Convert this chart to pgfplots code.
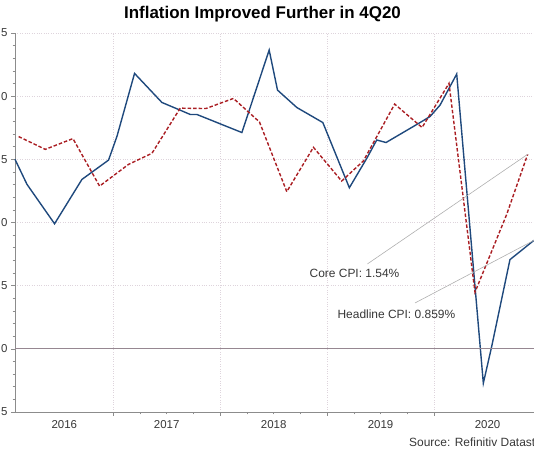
\documentclass[border=0pt]{standalone}
\usepackage{fontspec}
\setmainfont{Liberation Sans}
\usepackage{pgfplots}
\pgfplotsset{compat=1.18}
\definecolor{hblue}{RGB}{31,73,125}
\definecolor{cred}{RGB}{170,30,35}
\definecolor{gridc}{RGB}{222,212,220}
\definecolor{axisc}{RGB}{140,140,140}
\definecolor{zeroc}{RGB}{150,135,145}
\definecolor{annoc}{RGB}{175,175,175}
\definecolor{txt}{RGB}{55,55,55}

\begin{document}
\begin{tikzpicture}[x=1bp,y=1bp]
\begin{axis}[
  at={(15bp,38bp)}, anchor=south west,
  scale only axis, width=519bp, height=379bp,
  xmin=2016.081, xmax=2020.935,
  ymin=-0.5, ymax=2.5,
  axis x line*=bottom, axis y line*=left,
  axis line style={draw=axisc, line width=0.8bp, -},
  tick style={draw=axisc, line width=0.6bp},
  tick align=outside,
  major tick length=4bp, minor tick length=2.5bp,
  xtick={2017,2018,2019,2020}, xticklabels={},
  minor x tick num=3,
  extra x ticks={2016.542,2017.5,2018.5,2019.5,2020.5},
  extra x tick labels={2016,2017,2018,2019,2020},
  extra x tick style={major tick length=0pt, grid=none,
    xticklabel style={yshift=-5bp}},
  ytick={-0.5,0,0.5,1,1.5,2,2.5},
  minor y tick num=4,
  /pgf/number format/.cd, fixed, fixed zerofill, precision=1, assume math mode=true,
  /pgfplots/.cd,
  ticklabel style={font=\fontsize{11.5}{13}\selectfont, text=txt},
  xmajorgrids, ymajorgrids,
  grid style={draw=gridc, dotted, line width=0.7bp},
  clip=false,
]
% headline CPI, y/y %
\addplot[hblue, line width=1.4bp] coordinates {
(2016.081,1.500) (2016.193,1.302) (2016.451,0.990) (2016.707,1.341)
(2016.956,1.494) (2017.035,1.683) (2017.199,2.180) (2017.455,1.950)
(2017.626,1.889) (2017.720,1.855) (2017.782,1.855) (2018.203,1.712)
(2018.458,2.365) (2018.536,2.048) (2018.717,1.910) (2018.960,1.791)
(2019.208,1.275) (2019.371,1.508) (2019.464,1.653) (2019.551,1.633)
(2019.869,1.791) (2019.963,1.839) (2020.056,1.929) (2020.212,2.175)
(2020.461,-0.272) (2020.539,0.018) (2020.710,0.706) (2020.935,0.859)
};
% core CPI, y/y %
\addplot[cred, line width=1.4bp, dash pattern=on 3.5bp off 2bp] coordinates {
(2016.115,1.680) (2016.364,1.579) (2016.623,1.664) (2016.872,1.288)
(2017.143,1.460) (2017.362,1.548) (2017.626,1.905) (2017.866,1.902)
(2018.124,1.982) (2018.367,1.796) (2018.623,1.244) (2018.872,1.595)
(2019.136,1.328) (2019.339,1.487) (2019.632,1.937) (2019.888,1.752)
(2020.140,2.101) (2020.383,0.448) (2020.679,1.063) (2020.876,1.540)
};
\draw[zeroc, line width=0.8bp] (axis cs:2016.081,0) -- (axis cs:2020.935,0);
\draw[annoc, line width=0.6bp] (axis cs:2019.377,0.672) -- (axis cs:2020.876,1.540);
\draw[annoc, line width=0.6bp] (axis cs:2019.822,0.363) -- (axis cs:2020.935,0.859);
\node[anchor=west, inner sep=0, text=txt, font=\fontsize{12}{14}\selectfont]
  at (axis cs:2018.835,0.595) {Core CPI: 1.54\%};
\node[anchor=west, inner sep=0, text=txt, font=\fontsize{12}{14}\selectfont]
  at (axis cs:2019.096,0.270) {Headline CPI: 0.859\%};
\end{axis}
\node[font=\bfseries\fontsize{17}{20}\selectfont] at (262.5,436) {Inflation Improved Further in 4Q20};
\node[anchor=west, inner sep=0, text=txt, font=\fontsize{12}{14}\selectfont] at (409,8) {Source: Refinitiv Datastream};
\pgfresetboundingbox
\useasboundingbox (0,0) rectangle (534,450);
\end{tikzpicture}
\end{document}
